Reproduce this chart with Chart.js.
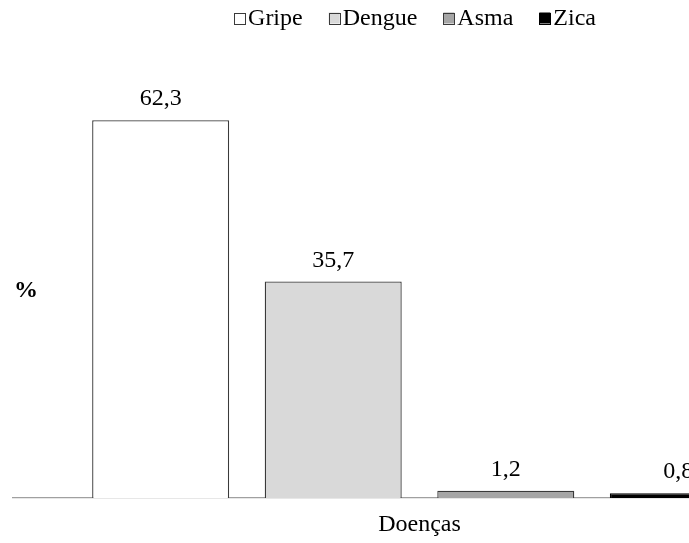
<!DOCTYPE html>
<html lang="pt">
<head>
<meta charset="utf-8">
<title>Doenças (%)</title>
<script src="https://cdn.jsdelivr.net/npm/chart.js@4.4.1/dist/chart.umd.min.js"></script>
<style>
  html, body { margin: 0; padding: 0; background: #ffffff; overflow: hidden; }
  #wrap { width: 689px; height: 543px; overflow: hidden; }
  canvas { display: block; }
</style>
</head>
<body>
<div id="wrap"><canvas id="chart" width="830" height="543"></canvas></div>
<script>
// Data
const categories = ['Doenças'];
const diseases = ['Gripe', 'Dengue', 'Asma', 'Zica'];
const percentages = [62.3, 35.7, 1.2, 0.8];

// Styles
const fillColors = ['#ffffff', '#d9d9d9', '#a6a6a6', '#000000'];
const edgeColors = ['#3a3a3a', '#3a3a3a', '#3a3a3a', '#000000'];
const serif = '"Liberation Serif", "Times New Roman", serif';
const textSize = 24;

const datasets = diseases.map((name, i) => ({
  label: name,
  data: [percentages[i]],
  backgroundColor: fillColors[i],
  borderColor: edgeColors[i],
  borderWidth: 1.3,
  borderSkipped: 'bottom'
}));

// Compact legend (box flush against its text), value labels and "%" caption
const annotate = {
  id: 'annotate',
  afterDraw(chart) {
    const ctx = chart.ctx;
    ctx.save();
    ctx.fillStyle = '#000000';

    // legend row, centred on the canvas
    ctx.font = textSize + 'px ' + serif;
    ctx.textBaseline = 'middle';
    ctx.textAlign = 'left';
    const box = 11, boxGap = 3, itemGap = 26, legendY = 18;
    const items = chart.data.datasets.map(ds => ({
      ds: ds, w: box + boxGap + ctx.measureText(ds.label).width
    }));
    const total = items.reduce((s, it) => s + it.w, 0) + itemGap * (items.length - 1);
    let x = chart.width / 2 - total / 2;
    items.forEach(it => {
      ctx.fillStyle = it.ds.backgroundColor;
      ctx.fillRect(x, legendY - box / 2, box, box);
      ctx.strokeStyle = it.ds.borderColor;
      ctx.lineWidth = 1;
      ctx.strokeRect(Math.round(x) + 0.5, Math.round(legendY - box / 2) + 0.5, box, box);
      ctx.fillStyle = '#000000';
      ctx.fillText(it.ds.label, x + box + boxGap, legendY + 1);
      x += it.w + itemGap;
    });

    // value labels above each bar
    ctx.textAlign = 'center';
    ctx.textBaseline = 'alphabetic';
    chart.data.datasets.forEach((ds, i) => {
      const bar = chart.getDatasetMeta(i).data[0];
      const txt = ds.data[0].toFixed(1).replace('.', ',');
      ctx.fillText(txt, bar.x, bar.y - 15);
    });

    // "%" caption beside the plot
    const area = chart.chartArea;
    ctx.font = 'bold ' + textSize + 'px ' + serif;
    ctx.textAlign = 'left';
    ctx.textBaseline = 'middle';
    ctx.fillText('%', area.left + 1, area.top + (area.bottom - area.top) * 0.548);
    ctx.restore();
  }
};

new Chart(document.getElementById('chart'), {
  type: 'bar',
  data: { labels: categories, datasets: datasets },
  options: {
    responsive: false,
    animation: false,
    layout: { padding: { left: 13, right: 4, top: 39, bottom: 1.6 } },
    datasets: {
      bar: { categoryPercentage: 0.849, barPercentage: 0.794 }
    },
    plugins: {
      legend: { display: false },
      tooltip: { enabled: false }
    },
    scales: {
      x: {
        grid: { display: false },
        ticks: { display: false },
        border: { display: true, color: '#a0a0a0', width: 1.2 },
        title: {
          display: true,
          text: 'Doenças',
          color: '#000000',
          font: { family: serif, size: textSize },
          padding: { top: 4.6, bottom: 2 }
        }
      },
      y: {
        display: false,
        min: 0,
        max: 75.7
      }
    }
  },
  plugins: [annotate]
});
</script>
</body>
</html>
